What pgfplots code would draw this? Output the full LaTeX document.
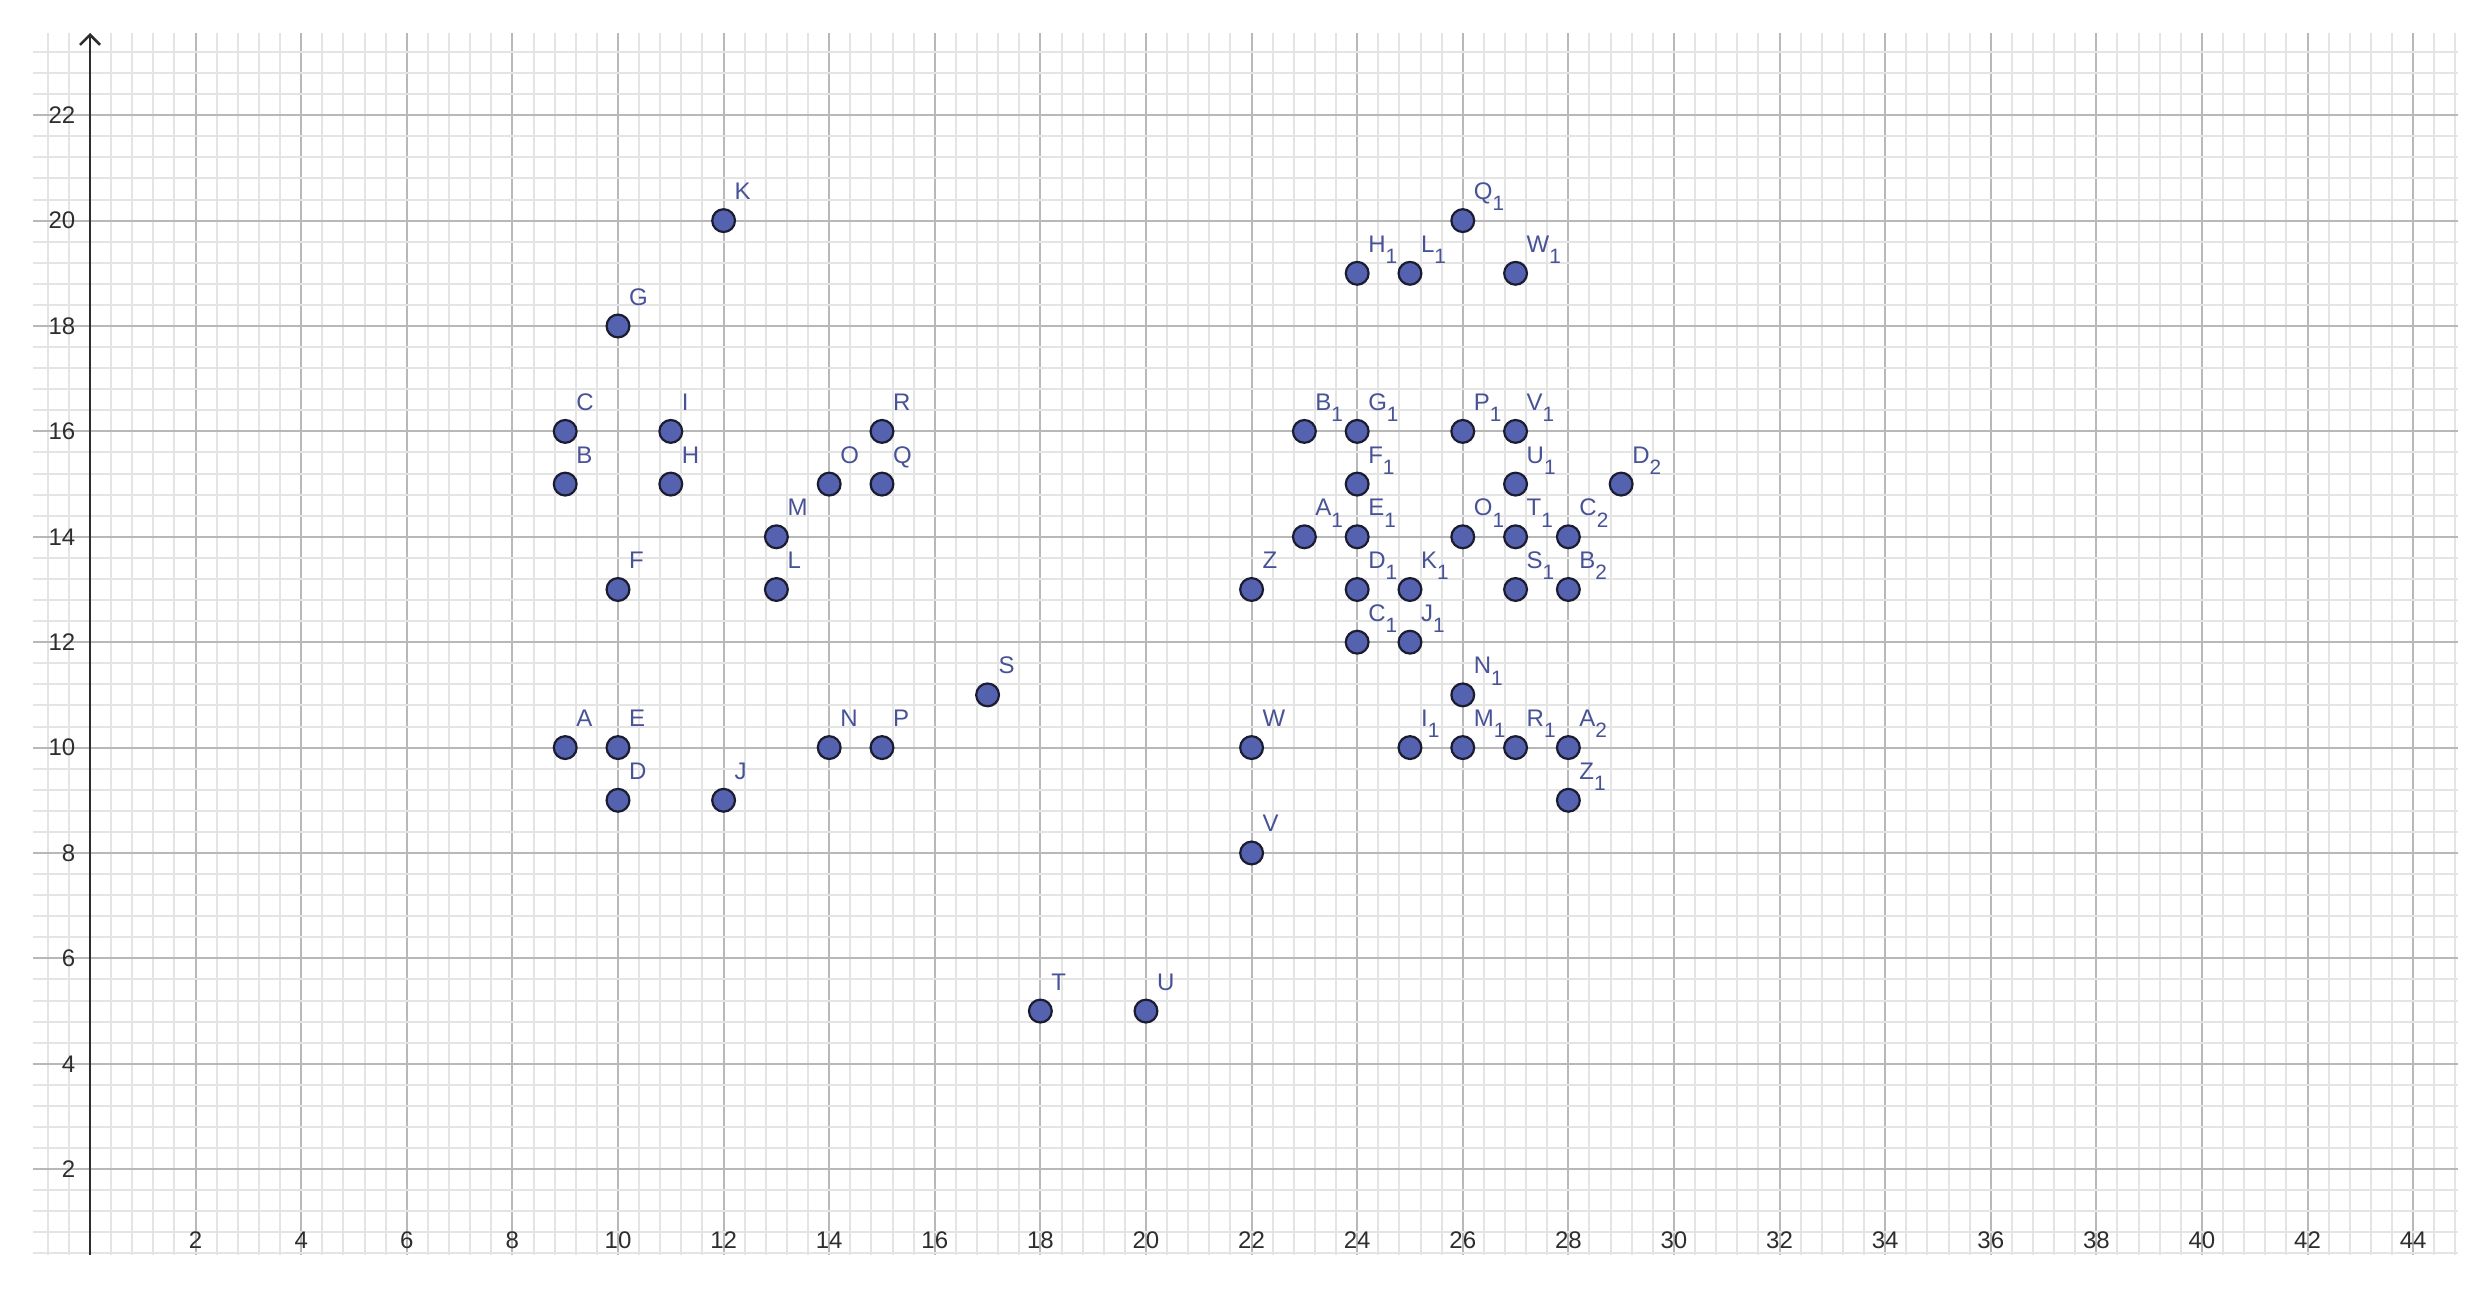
\documentclass[border=0pt]{standalone}
\usepackage{fontspec}
\setmainfont{Liberation Sans}
\usepackage{pgfplots}
\pgfplotsset{compat=1.18}
\usetikzlibrary{arrows.meta}
\definecolor{gridmajor}{RGB}{184,184,184}
\definecolor{gridminor}{RGB}{228,228,228}
\definecolor{ptfill}{RGB}{84,98,176}
\definecolor{ptdraw}{RGB}{28,28,48}
\definecolor{lblcol}{RGB}{72,82,150}
\definecolor{axcol}{RGB}{45,45,45}
\newcommand\lsub[1]{\raisebox{-2.8pt}{\fontsize{5.2}{6}\selectfont #1}}
\begin{document}
\begin{tikzpicture}
\begin{axis}[
  x=13.2pt, y=13.175pt,
  xmin=-1.08, xmax=44.85, ymin=0.38, ymax=23.56,
  axis x line*=bottom,
  axis y line=middle,
  x axis line style={draw=none},
  y axis line style={draw=axcol, line width=0.65pt, -{Straight Barb[length=2.5pt,width=5pt]}},
  xtick={2,4,...,44},
  ytick={2,4,...,22},
  minor xtick={-0.8,-0.4,...,44.8},
  minor ytick={0.4,0.8,...,23.6},
  major tick length=0pt, minor tick length=0pt,
  tick style={draw=none},
  grid=both,
  major grid style={line width=0.5pt, draw=gridmajor},
  minor grid style={line width=0.5pt, draw=gridminor},
  /pgf/number format/assume math mode=true,
  ticklabel style={font=\fontsize{6}{7}\selectfont, text=axcol, inner sep=0pt},
  xticklabel style={anchor=center, yshift=3.5pt},
  yticklabel style={anchor=east, xshift=-3.5pt},
  nodes near coords,
  point meta=explicit symbolic,
  nodes near coords style={anchor=base west, inner sep=0pt, xshift=2.5pt, yshift=5.25pt,
    font=\fontsize{6}{7}\selectfont, text=lblcol},
]
\coordinate (sw) at (rel axis cs:0,0);
\coordinate (ne) at (rel axis cs:1,1);
\addplot[only marks, mark=*, mark size=2.85pt,
  mark options={fill=ptfill, draw=ptdraw, line width=0.55pt}]
coordinates {
(9,10) [A] (9,15) [B] (9,16) [C] (10,9) [D] (10,10) [E] (10,13) [F]
(10,18) [G] (11,15) [H] (11,16) [I] (12,9) [J] (12,20) [K] (13,13) [L]
(13,14) [M] (14,10) [N] (14,15) [O] (15,10) [P] (15,15) [Q] (15,16) [R]
(17,11) [S] (18,5) [T] (20,5) [U] (22,8) [V] (22,10) [W] (22,13) [Z]
(23,14) [A\lsub{1}] (23,16) [B\lsub{1}] (24,12) [C\lsub{1}]
(24,13) [D\lsub{1}] (24,14) [E\lsub{1}] (24,15) [F\lsub{1}]
(24,16) [G\lsub{1}] (24,19) [H\lsub{1}] (25,10) [I\lsub{1}]
(25,12) [J\lsub{1}] (25,13) [K\lsub{1}] (25,19) [L\lsub{1}]
(26,10) [M\lsub{1}] (26,11) [N\lsub{1}] (26,14) [O\lsub{1}]
(26,16) [P\lsub{1}] (26,20) [Q\lsub{1}] (27,10) [R\lsub{1}]
(27,13) [S\lsub{1}] (27,14) [T\lsub{1}] (27,15) [U\lsub{1}]
(27,16) [V\lsub{1}] (27,19) [W\lsub{1}] (28,9) [Z\lsub{1}]
(28,10) [A\lsub{2}] (28,13) [B\lsub{2}] (28,14) [C\lsub{2}]
(29,15) [D\lsub{2}]
};
\end{axis}
\pgfresetboundingbox
\path ([xshift=-8.25pt,yshift=-10.75pt]sw) rectangle ([xshift=6pt,yshift=8.25pt]ne);
\end{tikzpicture}
\end{document}
